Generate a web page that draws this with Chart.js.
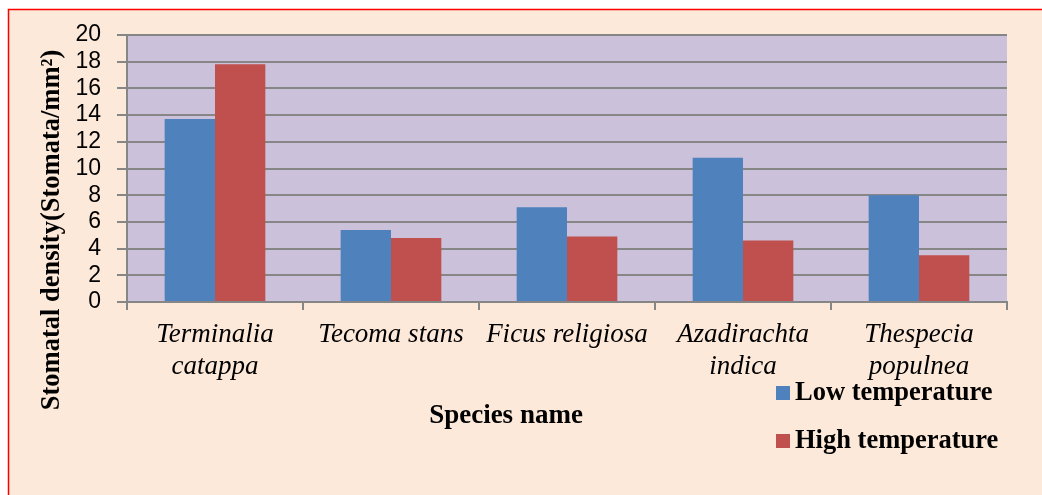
<!DOCTYPE html>
<html>
<head>
<meta charset="utf-8">
<script src="https://cdn.jsdelivr.net/npm/chart.js@4/dist/chart.umd.min.js"></script>
<style>
  html, body { margin: 0; padding: 0; background: #fff; }
  #wrap { width: 1042px; height: 495px; }
</style>
</head>
<body>
<div id="wrap"><canvas id="myChart" width="1042" height="495"></canvas></div>
<script>
const species = [
  ["Terminalia", "catappa"],
  "Tecoma stans",
  "Ficus religiosa",
  ["Azadirachta", "indica"],
  ["Thespecia", "populnea"]
];
const lowTemp = [13.7, 5.4, 7.1, 10.8, 8.0];
const highTemp = [17.8, 4.8, 4.9, 4.6, 3.5];
const yTicks = [0, 2, 4, 6, 8, 10, 12, 14, 16, 18, 20];
const xTitle = "Species name";
const yTitle = "Stomatal density(Stomata/mm\u00B2)";

const serif = "'Liberation Serif', 'Times New Roman', serif";
const gridGray = "#868686";

// page frame + plot fill, axis titles and legend drawn around the chart
const framePlugin = {
  id: "frame",
  beforeDraw(chart) {
    const ctx = chart.ctx;
    const a = chart.chartArea;
    ctx.save();
    ctx.fillStyle = "#ffffff";
    ctx.fillRect(0, 0, chart.width, chart.height);
    ctx.fillStyle = "#FDE9D9";
    ctx.fillRect(8, 9, chart.width, chart.height);
    ctx.strokeStyle = "#FF0000";
    ctx.lineWidth = 1.5;
    ctx.beginPath();
    ctx.moveTo(8.5, chart.height + 5);
    ctx.lineTo(8.5, 9.5);
    ctx.lineTo(chart.width + 5, 9.5);
    ctx.stroke();
    ctx.fillStyle = "#CBC1DA";
    ctx.fillRect(a.left, a.top, a.right - a.left, a.bottom - a.top);
    ctx.restore();
  },
  afterDraw(chart) {
    const ctx = chart.ctx;
    ctx.save();
    ctx.fillStyle = "#000";
    ctx.textAlign = "center";
    ctx.textBaseline = "middle";
    ctx.font = "bold 27px " + serif;
    ctx.fillText(xTitle, 506, 416);
    ctx.font = "bold 26.5px " + serif;
    ctx.translate(52, 230);
    ctx.rotate(-Math.PI / 2);
    ctx.fillText(yTitle, 0, 0);
    ctx.restore();

    ctx.save();
    ctx.font = "bold 26.5px " + serif;
    ctx.textBaseline = "middle";
    ctx.textAlign = "left";
    chart.data.datasets.forEach((ds, i) => {
      const y = 393 + i * 48;
      ctx.fillStyle = ds.backgroundColor;
      ctx.fillRect(776, y - 7, 14, 14);
      ctx.fillStyle = "#000";
      ctx.fillText(ds.label, 795, y);
    });
    ctx.restore();
  }
};

var ctx = document.getElementById("myChart").getContext("2d");
var myChart = new Chart(ctx, {
  type: "bar",
  data: {
    labels: species,
    datasets: [{
      label: "Low temperature",
      data: lowTemp,
      backgroundColor: "#4F81BD",
      categoryPercentage: 0.572,
      barPercentage: 1.0
    }, {
      label: "High temperature",
      data: highTemp,
      backgroundColor: "#C0504D",
      categoryPercentage: 0.572,
      barPercentage: 1.0
    }]
  },
  options: {
    responsive: false,
    animation: false,
    layout: { padding: { left: 0, right: 35, top: 35, bottom: 0 } },
    plugins: {
      legend: { display: false },
      tooltip: { enabled: false }
    },
    scales: {
      x: {
        grid: {
          drawOnChartArea: false,
          drawTicks: true,
          tickLength: 8,
          color: gridGray,
          lineWidth: 2,
          offset: true
        },
        border: { display: true, color: gridGray, width: 2 },
        ticks: {
          color: "#000",
          padding: 9,
          autoSkip: false,
          maxRotation: 0,
          font: { family: serif, size: 27, style: "italic", lineHeight: 1.19 }
        },
        afterFit(scale) { scale.height = 193; }
      },
      y: {
        min: 0,
        max: 20,
        afterBuildTicks(scale) { scale.ticks = yTicks.map(v => ({ value: v })); },
        grid: {
          color: gridGray,
          lineWidth: 2,
          tickLength: 10
        },
        border: { display: true, color: gridGray, width: 2 },
        ticks: {
          color: "#000",
          padding: 16,
          autoSkip: false,
          font: { family: "'Liberation Sans', Arial, sans-serif", size: 23 }
        },
        afterFit(scale) { scale.width = 127; }
      }
    }
  },
  plugins: [framePlugin]
});
</script>
</body>
</html>
